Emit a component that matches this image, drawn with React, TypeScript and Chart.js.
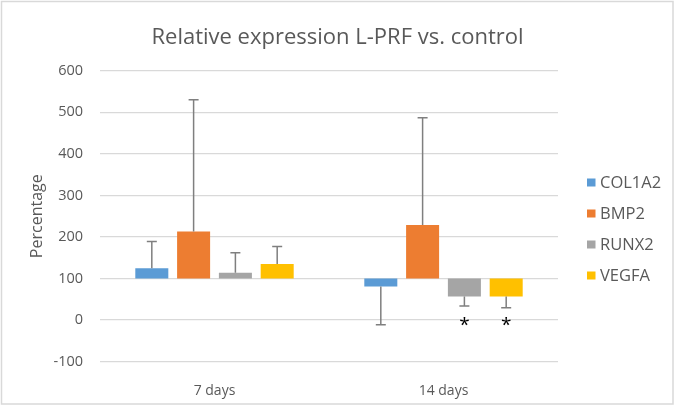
import React, { useEffect, useRef } from "react";
import { Chart, registerables } from "chart.js";

Chart.register(...registerables);

const chartTitle = "Relative expression L-PRF vs. control";
const yAxisTitle = "Percentage";
const categories = ["7 days", "14 days"];
const seriesNames = ["COL1A2", "BMP2", "RUNX2", "VEGFA"];
const seriesColors = ["#5B9BD5", "#ED7D31", "#A5A5A5", "#FFC000"];
const baseline = 100;

const col1a2 = [125, 81];
const bmp2 = [213, 229];
const runx2 = [114, 57];
const vegfa = [135, 57];

const col1a2Err = [189, -11];
const bmp2Err = [530, 487];
const runx2Err = [162, 34];
const vegfaErr = [177, 30];

const col1a2Sig = ["", ""];
const bmp2Sig = ["", ""];
const runx2Sig = ["", "*"];
const vegfaSig = ["", "*"];
const sigValue = 0;

const yTicks = [-100, 0, 100, 200, 300, 400, 500, 600];

const seriesValues = [col1a2, bmp2, runx2, vegfa];
const seriesErrs = [col1a2Err, bmp2Err, runx2Err, vegfaErr];
const seriesSig = [col1a2Sig, bmp2Sig, runx2Sig, vegfaSig];

const FONT = "'Open Sans', sans-serif";
const TEXT = "#595959";

const extrasPlugin = {
  id: "extras",
  beforeDraw(chart: any) {
    const ctx = chart.ctx;
    ctx.save();
    ctx.fillStyle = "#ffffff";
    ctx.fillRect(0, 0, chart.width, chart.height);
    ctx.strokeStyle = "#D9D9D9";
    ctx.lineWidth = 1.5;
    ctx.strokeRect(1.5, 1.5, chart.width - 3.5, chart.height - 4.5);
    ctx.fillStyle = TEXT;
    ctx.font = "22px " + FONT;
    ctx.textAlign = "center";
    ctx.textBaseline = "middle";
    ctx.fillText(chartTitle, chart.width / 2, 38);
    ctx.restore();
  },
  afterDatasetsDraw(chart: any) {
    const ctx = chart.ctx;
    const y = chart.scales.y;
    ctx.save();
    chart.data.datasets.forEach((ds: any, di: number) => {
      const meta = chart.getDatasetMeta(di);
      meta.data.forEach((el: any, i: number) => {
        const end = ds.data[i][1];
        const err = ds.errEnd[i];
        const x = el.x;
        const y0 = y.getPixelForValue(end);
        const y1 = y.getPixelForValue(err);
        ctx.strokeStyle = "#7F7F7F";
        ctx.lineWidth = 1.5;
        ctx.beginPath();
        ctx.moveTo(x, y0);
        ctx.lineTo(x, y1);
        ctx.moveTo(x - 5, y1);
        ctx.lineTo(x + 5, y1);
        ctx.stroke();
        const sig = ds.sig[i];
        if (sig) {
          ctx.fillStyle = "#000000";
          ctx.font = "19px " + FONT;
          ctx.textAlign = "center";
          ctx.textBaseline = "alphabetic";
          ctx.fillText(sig, x, y.getPixelForValue(sigValue) + 11);
        }
      });
    });
    ctx.restore();
  },
  afterDraw(chart: any) {
    const ctx = chart.ctx;
    const area = chart.chartArea;
    ctx.save();
    ctx.font = "16.5px " + FONT;
    ctx.textBaseline = "middle";
    ctx.textAlign = "left";
    const x0 = area.right + 29;
    const startY = 182.5;
    chart.data.datasets.forEach((ds: any, i: number) => {
      const cy = startY + i * 31;
      ctx.fillStyle = ds.backgroundColor;
      ctx.fillRect(x0, cy - 4, 8.5, 8);
      ctx.fillStyle = TEXT;
      ctx.fillText(ds.label, x0 + 13, cy + 0.5);
    });
    ctx.restore();
  },
};

export default function App() {
  const ref = useRef<HTMLCanvasElement | null>(null);

  useEffect(() => {
    document.body.style.margin = "0";
    if (!ref.current) return;
    const chart = new Chart(ref.current, {
      type: "bar",
      data: {
        labels: categories,
        datasets: seriesNames.map((name, si) => ({
          label: name,
          data: seriesValues[si].map((v) => [baseline, v]),
          errEnd: seriesErrs[si],
          sig: seriesSig[si],
          backgroundColor: seriesColors[si],
          borderWidth: 0,
          categoryPercentage: 0.73,
          barPercentage: 0.79,
        })) as any,
      },
      options: {
        animation: false,
        responsive: true,
        maintainAspectRatio: false,
        layout: { padding: { left: 0, right: 117, top: 70.7, bottom: 0 } },
        plugins: {
          legend: { display: false },
          tooltip: { enabled: false },
          title: { display: false },
        },
        scales: {
          x: {
            grid: { display: false },
            border: { display: false },
            ticks: {
              color: TEXT,
              font: { family: FONT, size: 14 },
              padding: 13,
            },
            afterFit(scale: any) {
              scale.height = 45.3;
            },
          },
          y: {
            min: -100,
            max: 600,
            afterBuildTicks(scale: any) {
              scale.ticks = yTicks.map((v) => ({ value: v }));
            },
            grid: { color: "#D9D9D9", lineWidth: 1.3, drawTicks: false },
            border: { display: false },
            ticks: {
              color: TEXT,
              font: { family: FONT, size: 14.5 },
              padding: 17,
            },
            title: {
              display: true,
              text: yAxisTitle,
              color: TEXT,
              font: { family: FONT, size: 16 },
              padding: { top: 28, bottom: 0 },
            },
            afterFit(scale: any) {
              scale.width = 100;
            },
          },
        },
      },
      plugins: [extrasPlugin],
    });
    return () => chart.destroy();
  }, []);

  return (
    <div style={{ width: 675, height: 407, position: "relative" }}>
      <canvas ref={ref} />
    </div>
  );
}
